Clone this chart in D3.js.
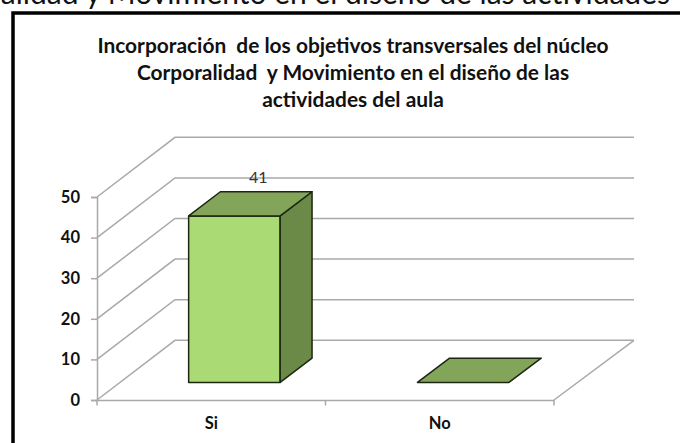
<!DOCTYPE html>
<html><head><meta charset="utf-8">
<style>html,body{margin:0;padding:0;background:#fff;overflow:hidden}svg{display:block}</style>
<script src="https://cdn.jsdelivr.net/npm/d3@7"></script></head>
<body><svg id="c" width="680" height="443"></svg>
<script>
const categories = ["Si", "No"];
const values = [41, 0];
const yTicks = [0, 10, 20, 30, 40, 50];
const titleLines = ["Incorporación\u00a0 de los objetivos transversales del núcleo", "Corporalidad\u00a0 y Movimiento en el diseño de las", "actividades del aula"];
const headerText = "Corporalidad y Movimiento en el diseño de las actividades";

const svg = d3.select("#c");
const font = "Lato, Carlito, sans-serif";
const grid = "#a9a9a9", stroke = "#1c2611";

// clipped heading and frame
svg.append("text").attr("x", 670).attr("y", 4).attr("text-anchor", "end")
  .attr("font-family", font).attr("font-size", 30).attr("fill", "#111").text(headerText);
svg.append("path").attr("d", "M13 443V13H680").attr("fill", "none").attr("stroke", "#000").attr("stroke-width", 3.5);

const title = svg.append("g").attr("font-family", font).attr("font-weight", 700).attr("font-size", 20.9)
  .attr("fill", "#111").attr("text-anchor", "middle");
title.selectAll("text").data(titleLines).join("text")
  .attr("x", 353).attr("y", (d, i) => 52.5 + i * 27.3).text(d => d);

const x = d3.scaleBand().domain(categories).range([97, 554]).paddingInner(0.6).paddingOuter(0.3);
const y = d3.scaleLinear().domain([0, 50]).range([400, 197]);
const depth = d3.scaleLinear().domain([97, 554]).range([78, 80]);
const lift = d3.scaleLinear().domain([0, 1]).range([0, -59.7]);
const P = (px, v, t) => [px + depth(px) * t, y(v) + lift(t)];
const line = d3.line();

// walls and floor
const g = svg.append("g").attr("fill", "none").attr("stroke", grid).attr("stroke-width", 1.5);
yTicks.forEach(v => {
  g.append("path").attr("d", line([P(97, v, 0), P(97, v, 1), P(554, v, 1)]));
});
g.append("path").attr("d", line([P(554, 0, 1), P(554, 0, 0)]));

// axes
const yAxis = svg.append("g").attr("transform", "translate(97,0)")
  .call(d3.axisLeft(y).tickValues(yTicks).tickSize(6).tickPadding(11));
yAxis.select(".domain").attr("stroke", grid).attr("stroke-width", 1.5);
yAxis.selectAll(".tick line").attr("stroke", grid).attr("stroke-width", 1.5);
yAxis.selectAll("text").attr("font-family", font).attr("font-weight", 700).attr("font-size", 16.5).attr("fill", "#111");

const xAxis = svg.append("g").attr("transform", "translate(0,400)")
  .call(d3.axisBottom(x).tickSize(0).tickPadding(17));
xAxis.select(".domain").attr("stroke", grid).attr("stroke-width", 1.5);
xAxis.selectAll("text").attr("font-family", font).attr("font-weight", 700).attr("font-size", 16.5).attr("fill", "#111");
const edges = [x.range()[0], (x.range()[0] + x.range()[1]) / 2, x.range()[1]];
svg.append("g").selectAll("line").data(edges).join("line")
  .attr("x1", d => d).attr("x2", d => d).attr("y1", 400).attr("y2", 405.5)
  .attr("stroke", grid).attr("stroke-width", 1.5);

// bars
const t0 = 0.295, t1 = 0.70;
const bars = svg.append("g").attr("stroke", stroke).attr("stroke-width", 1.5).attr("stroke-linejoin", "round");
categories.forEach((c, i) => {
  const a = x(c), b = a + x.bandwidth(), v = values[i];
  if (v > 0) {
    bars.append("path").attr("fill", "#a9da74")
      .attr("d", line([P(a, 0, t0), P(b, 0, t0), P(b, v, t0), P(a, v, t0)]) + "Z");
    bars.append("path").attr("fill", "#6c8a47")
      .attr("d", line([P(b, 0, t0), P(b, 0, t1), P(b, v, t1), P(b, v, t0)]) + "Z");
  }
  bars.append("path").attr("fill", "#83a55a")
    .attr("d", line([P(a, v, t0), P(b, v, t0), P(b, v, t1), P(a, v, t1)]) + "Z");
  if (v > 0) {
    const p = P((a + b) / 2, v, t1);
    svg.append("text").attr("x", p[0] - 8).attr("y", p[1] - 9).attr("text-anchor", "middle")
      .attr("font-family", font).attr("font-size", 16).attr("fill", "#333").text(v);
  }
});
</script></body></html>
